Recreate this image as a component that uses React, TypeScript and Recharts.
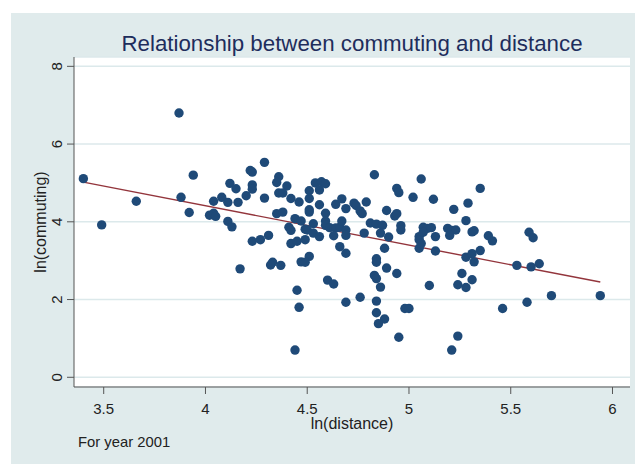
import React from 'react';
import { ComposedChart, Scatter, Line, XAxis, YAxis, CartesianGrid } from 'recharts';

// ln(distance), ln(commuting) pairs
const distX = [
  3.40, 3.49, 3.66, 3.87, 3.94, 3.88, 3.92, 4.02, 4.04, 4.05, 4.04, 4.08, 4.11, 4.12, 4.15, 4.16, 4.20, 4.22, 4.23, 4.23,
  4.23, 4.11, 4.13, 4.23, 4.27, 4.17, 4.31, 4.29, 4.29, 4.36, 4.35, 4.40, 4.36, 4.38, 4.42, 4.46, 4.51, 4.54, 4.57, 4.59,
  4.56, 4.51, 4.56, 4.51, 4.51, 4.59, 4.64, 4.67, 4.69, 4.73, 4.74, 4.76, 4.77, 4.79, 4.83, 4.89, 4.93, 4.94, 4.94, 4.95,
  5.02, 5.06, 4.35, 4.38, 4.44, 4.47, 4.41, 4.42, 4.49, 4.50, 4.53, 4.53, 4.56, 4.59, 4.59, 4.61, 4.64, 4.66, 4.67, 4.69,
  4.69, 4.63, 4.66, 4.69, 4.78, 4.81, 4.84, 4.87, 4.86, 4.90, 4.88, 4.96, 4.96, 5.05, 5.05, 5.05, 5.07, 5.09, 4.42, 4.45,
  4.49, 4.51, 4.47, 4.49, 4.33, 4.32, 4.37, 4.84, 4.84, 4.89, 4.94, 4.60, 4.63, 4.45, 4.83, 4.84, 4.86, 4.69, 4.76, 4.84,
  4.46, 4.84, 4.88, 4.85, 4.98, 5.00, 4.95, 4.44, 5.10, 5.35, 5.12, 5.29, 5.22, 5.28, 5.07, 5.11, 5.13, 5.19, 5.21, 5.23,
  5.20, 5.31, 5.32, 5.39, 5.41, 5.59, 5.61, 5.06, 5.13, 5.28, 5.31, 5.32, 5.35, 5.53, 5.60, 5.64, 5.26, 5.31, 5.24, 5.28,
  5.46, 5.58, 5.70, 5.94, 5.24, 5.21,
];
const commY = [
  5.11, 3.92, 4.53, 6.80, 5.20, 4.63, 4.24, 4.17, 4.22, 4.14, 4.53, 4.63, 4.50, 4.99, 4.85, 4.50, 4.67, 5.32, 5.28, 4.95,
  4.84, 4.01, 3.87, 3.50, 3.54, 2.79, 3.65, 5.53, 4.61, 5.16, 5.01, 4.92, 4.74, 4.74, 4.60, 4.51, 4.80, 5.00, 5.03, 4.98,
  4.82, 4.60, 4.44, 4.31, 4.25, 4.22, 4.45, 4.59, 4.34, 4.48, 4.42, 4.28, 4.21, 4.51, 5.21, 4.29, 4.15, 4.21, 4.86, 4.75,
  4.63, 5.10, 4.21, 4.25, 4.08, 4.02, 3.86, 3.78, 3.81, 3.79, 3.95, 3.71, 3.62, 4.02, 3.91, 3.85, 3.84, 3.86, 4.02, 3.79,
  3.65, 3.64, 3.36, 3.19, 3.71, 3.97, 3.94, 3.91, 3.71, 3.61, 3.32, 3.90, 3.79, 3.62, 3.54, 3.32, 3.86, 3.83, 3.44, 3.50,
  3.54, 3.11, 2.97, 2.96, 2.96, 2.89, 2.88, 3.05, 2.96, 2.81, 2.67, 2.50, 2.40, 2.24, 2.62, 2.54, 2.32, 1.93, 2.06, 1.96,
  1.80, 1.66, 1.50, 1.38, 1.77, 1.77, 1.03, 0.70, 2.36, 4.86, 4.58, 4.48, 4.32, 4.03, 3.73, 3.85, 3.62, 3.83, 3.78, 3.79,
  3.65, 3.74, 3.77, 3.64, 3.51, 3.73, 3.59, 3.44, 3.25, 3.09, 3.18, 2.97, 3.26, 2.88, 2.84, 2.92, 2.67, 2.51, 2.38, 2.31,
  1.77, 1.93, 2.10, 2.10, 1.06, 0.70,
];

// fitted line end points
const fitX = [3.40, 5.94];
const fitY = [5.02, 2.45];

const xTicks = [3.5, 4, 4.5, 5, 5.5, 6];
const yTicks = [0, 2, 4, 6, 8];

const points = distX.map((x, i) => ({ x, y: commY[i] }));
const fitLine = fitX.map((x, i) => ({ x, y: fitY[i] }));

const FONT = '"Liberation Sans", Arial, sans-serif';

const YTick = (props: any) => {
  const { y, payload } = props;
  return (
    <text x={62} y={y} transform={`rotate(-90, 62, ${y})`} textAnchor="middle"
      fontFamily={FONT} fontSize={15} fill="#222">
      {payload.value}
    </text>
  );
};

const XTick = (props: any) => {
  const { x, payload } = props;
  return (
    <text x={x} y={414} textAnchor="middle" fontFamily={FONT} fontSize={15} fill="#222">
      {payload.value}
    </text>
  );
};

export default function App() {
  return (
    <div style={{ position: 'absolute', left: 0, top: 0, width: 635, height: 465, background: '#fff' }}>
      <div style={{ position: 'absolute', left: 11, top: 13, width: 624, height: 451, background: '#e0ebec' }} />
      <div style={{ position: 'absolute', left: 0, top: 0 }}>
        <ComposedChart width={635} height={465} margin={{ top: 57, right: 5, bottom: 48, left: 14 }}>
          <CartesianGrid vertical={false} horizontal fill="#ffffff" stroke="#dce9eb" strokeWidth={1.5} />
          <XAxis type="number" dataKey="x" domain={[3.354, 6.086]} ticks={xTicks} height={30}
            allowDataOverflow tick={<XTick />} tickSize={7} tickLine={{ stroke: '#555' }}
            axisLine={{ stroke: '#555' }} />
          <YAxis type="number" dataKey="y" domain={[-0.25, 8.24]} ticks={yTicks} width={60}
            allowDataOverflow tick={<YTick />} tickSize={7} tickLine={{ stroke: '#555' }}
            axisLine={{ stroke: '#555' }} />
          <Scatter data={points} fill="#1f4a78" isAnimationActive={false}
            shape={(p: any) => <circle cx={p.cx} cy={p.cy} r={4.7} fill="#1f4a78" />} />
          <Line data={fitLine} dataKey="y" stroke="#93353c" strokeWidth={1.4} dot={false}
            activeDot={false} isAnimationActive={false} />
        </ComposedChart>
      </div>
      <svg width={635} height={465} style={{ position: 'absolute', left: 0, top: 0, pointerEvents: 'none' }}>
        <text x={352} y={51} textAnchor="middle" fontFamily={FONT} fontSize={22.3} fill="#1e2d5c">
          Relationship between commuting and distance
        </text>
        <text x={352} y={429} textAnchor="middle" fontFamily={FONT} fontSize={16} fill="#222">
          ln(distance)
        </text>
        <text x={46} y={222} transform="rotate(-90, 46, 222)" textAnchor="middle" fontFamily={FONT}
          fontSize={16} fill="#222">
          ln(commuting)
        </text>
        <text x={78} y={447} fontFamily={FONT} fontSize={14.8} fill="#222">
          For year 2001
        </text>
      </svg>
    </div>
  );
}
